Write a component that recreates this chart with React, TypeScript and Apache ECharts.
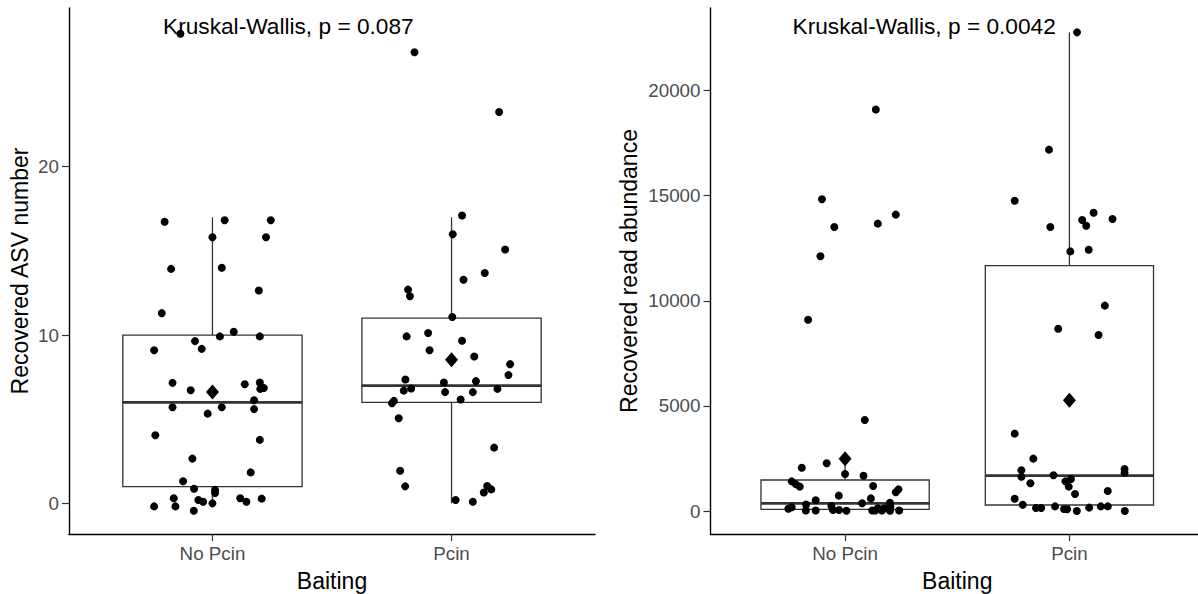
import React, { useEffect, useRef } from "react";
import * as echarts from "echarts";

// ---------- data ----------
const categories = ["No Pcin", "Pcin"];
const xTickValues = [1, 2];
const asvTicks = [0, 10, 20];
const readTicks = [0, 5000, 10000, 15000, 20000];

// jittered points: [x position (1 = No Pcin, 2 = Pcin, jitter included), value]
const asvNoPcin = [
  [0.866, 27.9], [0.8, 16.73], [1.051, 16.82], [1.244, 16.82], [1.0, 15.81], [1.224, 15.81],
  [0.827, 13.93], [1.039, 14.0], [1.194, 12.65], [0.788, 11.3], [1.031, 9.92], [1.089, 10.2],
  [1.198, 9.92], [0.927, 9.64], [0.955, 9.18], [0.756, 9.1], [0.833, 7.16], [0.909, 6.72],
  [1.135, 7.08], [1.198, 7.18], [1.2, 6.8], [1.215, 6.85], [1.174, 6.13], [0.833, 5.71],
  [1.039, 5.71], [1.174, 5.6], [0.98, 5.33], [0.761, 4.05], [1.198, 3.77], [0.916, 2.66],
  [1.16, 1.84], [0.877, 1.31], [0.923, 0.87], [1.011, 0.8], [1.011, 0.62], [0.838, 0.3],
  [0.756, -0.18], [0.845, -0.18], [0.922, -0.44], [0.941, 0.2], [0.961, 0.1], [1.0, 0.0],
  [1.116, 0.3], [1.142, 0.1], [1.206, 0.28],
];
const asvPcin = [
  [1.845, 26.8], [2.199, 23.25], [2.044, 17.1], [2.005, 15.99], [2.224, 15.08], [2.139, 13.69],
  [2.05, 13.29], [1.818, 12.7], [1.826, 12.3], [2.003, 11.07], [1.812, 9.92], [1.902, 10.12],
  [2.044, 9.66], [1.908, 9.1], [2.095, 8.73], [2.245, 8.27], [2.238, 7.62], [1.807, 7.36],
  [1.968, 7.18], [2.102, 7.26], [1.8, 6.7], [1.831, 6.82], [1.973, 6.61], [2.089, 6.61],
  [2.192, 6.8], [2.038, 6.17], [1.759, 6.09], [1.751, 5.95], [1.779, 5.06], [2.178, 3.31],
  [1.785, 1.94], [1.806, 1.01], [2.149, 1.03], [2.166, 0.83], [2.135, 0.65], [2.017, 0.2],
  [2.089, 0.1],
];
const readNoPcin = [
  [1.137, 19100], [0.897, 14830], [0.952, 13510], [0.89, 12120], [1.146, 13670], [1.226, 14100],
  [0.835, 9100], [1.088, 4330], [0.807, 2060], [0.918, 2270], [1.0, 1760], [1.082, 1680],
  [0.762, 1410], [0.78, 1280], [0.798, 1160], [1.125, 1190], [0.972, 730], [0.869, 510],
  [1.115, 600], [1.076, 370], [0.826, 310], [0.747, 110], [0.762, 180], [0.825, 20],
  [0.869, 20], [0.939, 240], [0.946, 50], [0.973, 50], [1.006, 10], [1.226, 890],
  [1.238, 1030], [1.2, 390], [1.202, 200], [1.241, 20], [1.2, 10], [1.121, 20],
  [1.134, 20], [1.146, 130], [1.164, 20], [1.174, 130],
];
const readPcin = [
  [2.034, 22770], [1.909, 17190], [1.756, 14760], [2.108, 14190], [2.192, 13890], [2.057, 13840],
  [2.075, 13570], [1.915, 13510], [2.004, 12350], [2.086, 12430], [2.158, 9770], [1.95, 8670],
  [2.13, 8370], [1.756, 3680], [1.839, 2490], [1.786, 1940], [1.786, 1630], [1.929, 1700],
  [1.826, 1320], [1.982, 1410], [2.007, 1520], [1.997, 1160], [2.025, 810], [2.246, 2000],
  [2.246, 1820], [2.171, 950], [1.756, 585], [1.792, 300], [1.851, 140], [1.874, 140],
  [1.936, 220], [1.976, 95], [1.99, 80], [2.033, 0], [2.088, 160], [2.14, 220],
  [2.171, 220], [2.247, 0],
];

// box statistics: [x, lower whisker, Q1, median, Q3, upper whisker]
const asvBoxes = [
  [1, 0, 1, 6, 10, 17],
  [2, 0, 6, 7, 11, 17],
];
const readBoxes = [
  [1, 0, 80, 366, 1475, 2270],
  [2, 0, 285, 1680, 11670, 22770],
];
// group means: [x, mean]
const asvMeans = [[1, 6.61], [2, 8.53]];
const readMeans = [[1, 2488], [2, 5265]];

const asvRange = [-1.82, 29.43];
const readRange = [-1094, 23928];
const xRange = [0.4, 2.6];

const asvTitle = "Kruskal-Wallis, p = 0.087";
const readTitle = "Kruskal-Wallis, p = 0.0042";

// ---------- styles ----------
const FONT = "'Liberation Sans', Arial, sans-serif";
const BOX_WIDTH = 0.75;
const BOX_STROKE = "#333333";

function renderBox(params: any, api: any) {
  const x = api.value(0);
  const low = api.value(1);
  const q1 = api.value(2);
  const med = api.value(3);
  const q3 = api.value(4);
  const high = api.value(5);
  const hw = BOX_WIDTH / 2;
  const tl = api.coord([x - hw, q3]);
  const br = api.coord([x + hw, q1]);
  const mL = api.coord([x - hw, med]);
  const mR = api.coord([x + hw, med]);
  const cHigh = api.coord([x, high]);
  const cQ3 = api.coord([x, q3]);
  const cQ1 = api.coord([x, q1]);
  const cLow = api.coord([x, low]);
  return {
    type: "group",
    children: [
      { type: "line", shape: { x1: cQ3[0], y1: cQ3[1], x2: cHigh[0], y2: cHigh[1] }, style: { stroke: BOX_STROKE, lineWidth: 1.3 } },
      { type: "line", shape: { x1: cQ1[0], y1: cQ1[1], x2: cLow[0], y2: cLow[1] }, style: { stroke: BOX_STROKE, lineWidth: 1.3 } },
      { type: "rect", shape: { x: tl[0], y: tl[1], width: br[0] - tl[0], height: br[1] - tl[1] }, style: { fill: "#ffffff", stroke: BOX_STROKE, lineWidth: 1.3 } },
      { type: "line", shape: { x1: mL[0], y1: mL[1], x2: mR[0], y2: mR[1] }, style: { stroke: BOX_STROKE, lineWidth: 2.8 } },
    ],
  };
}

function xAxisDef(gridIndex: number) {
  return {
    type: "value",
    gridIndex,
    min: xRange[0],
    max: xRange[1],
    name: "Baiting",
    nameLocation: "middle",
    nameGap: 35,
    nameTextStyle: { fontFamily: FONT, fontSize: 23, color: "#000" },
    axisLine: { show: true, onZero: false, lineStyle: { color: "#000", width: 1.4 } },
    axisTick: { show: true, length: 7, customValues: xTickValues, lineStyle: { color: "#333", width: 1.2 } },
    axisLabel: {
      show: true,
      customValues: xTickValues,
      margin: 10,
      fontFamily: FONT,
      fontSize: 18.8,
      color: "#4D4D4D",
      formatter: (v: number) => categories[Math.round(v) - 1] ?? "",
    },
    splitLine: { show: false },
  };
}

function yAxisDef(gridIndex: number, range: number[], ticks: number[], name: string, gap: number) {
  return {
    type: "value",
    gridIndex,
    min: range[0],
    max: range[1],
    name,
    nameLocation: "middle",
    nameGap: gap,
    nameTextStyle: { fontFamily: FONT, fontSize: 23, color: "#000" },
    axisLine: { show: true, onZero: false, lineStyle: { color: "#000", width: 1.4 } },
    axisTick: { show: true, length: 7, customValues: ticks, lineStyle: { color: "#333", width: 1.2 } },
    axisLabel: {
      show: true,
      customValues: ticks,
      margin: 10,
      fontFamily: FONT,
      fontSize: 18.8,
      color: "#4D4D4D",
      formatter: (v: number) => String(v),
    },
    splitLine: { show: false },
  };
}

function pointSeries(data: number[][], idx: number) {
  return {
    type: "scatter",
    xAxisIndex: idx,
    yAxisIndex: idx,
    data,
    symbol: "circle",
    symbolSize: 8,
    itemStyle: { color: "#000", opacity: 1 },
    z: 3,
    silent: true,
  };
}

function meanSeries(data: number[][], idx: number) {
  return {
    type: "scatter",
    xAxisIndex: idx,
    yAxisIndex: idx,
    data,
    symbol: "diamond",
    symbolSize: [13, 15],
    itemStyle: { color: "#000", opacity: 1 },
    z: 4,
    silent: true,
  };
}

function boxSeries(data: number[][], idx: number) {
  return {
    type: "custom",
    xAxisIndex: idx,
    yAxisIndex: idx,
    data,
    renderItem: renderBox,
    encode: { x: 0, y: [1, 2, 3, 4, 5] },
    z: 2,
    silent: true,
  };
}

export default function App() {
  const ref = useRef<HTMLDivElement>(null);
  useEffect(() => {
    if (!ref.current) return;
    const chart = echarts.init(ref.current, undefined, { renderer: "svg" });
    chart.setOption({
      animation: false,
      backgroundColor: "#ffffff",
      grid: [
        { left: 69, top: 8, width: 526, height: 526, outerBoundsMode: "none", containLabel: false },
        { left: 710.5, top: 8, width: 493.5, height: 526, outerBoundsMode: "none", containLabel: false },
      ],
      xAxis: [xAxisDef(0), xAxisDef(1)],
      yAxis: [
        yAxisDef(0, asvRange, asvTicks, "Recovered ASV number", 38),
        yAxisDef(1, readRange, readTicks, "Recovered read abundance", 70),
      ],
      graphic: [
        {
          type: "text",
          x: 163,
          y: 25.5,
          style: { text: asvTitle, fontFamily: FONT, fontSize: 22.7, fill: "#000", textAlign: "left", textVerticalAlign: "middle" },
        },
        {
          type: "text",
          x: 792.5,
          y: 25.5,
          style: { text: readTitle, fontFamily: FONT, fontSize: 22.7, fill: "#000", textAlign: "left", textVerticalAlign: "middle" },
        },
      ],
      series: [
        boxSeries(asvBoxes, 0),
        pointSeries(asvNoPcin, 0),
        pointSeries(asvPcin, 0),
        meanSeries(asvMeans, 0),
        boxSeries(readBoxes, 1),
        pointSeries(readNoPcin, 1),
        pointSeries(readPcin, 1),
        meanSeries(readMeans, 1),
      ],
    });
    return () => chart.dispose();
  }, []);
  return (
    <div
      ref={ref}
      style={{ position: "absolute", left: 0, top: 0, width: 1198, height: 594, background: "#fff" }}
    />
  );
}
